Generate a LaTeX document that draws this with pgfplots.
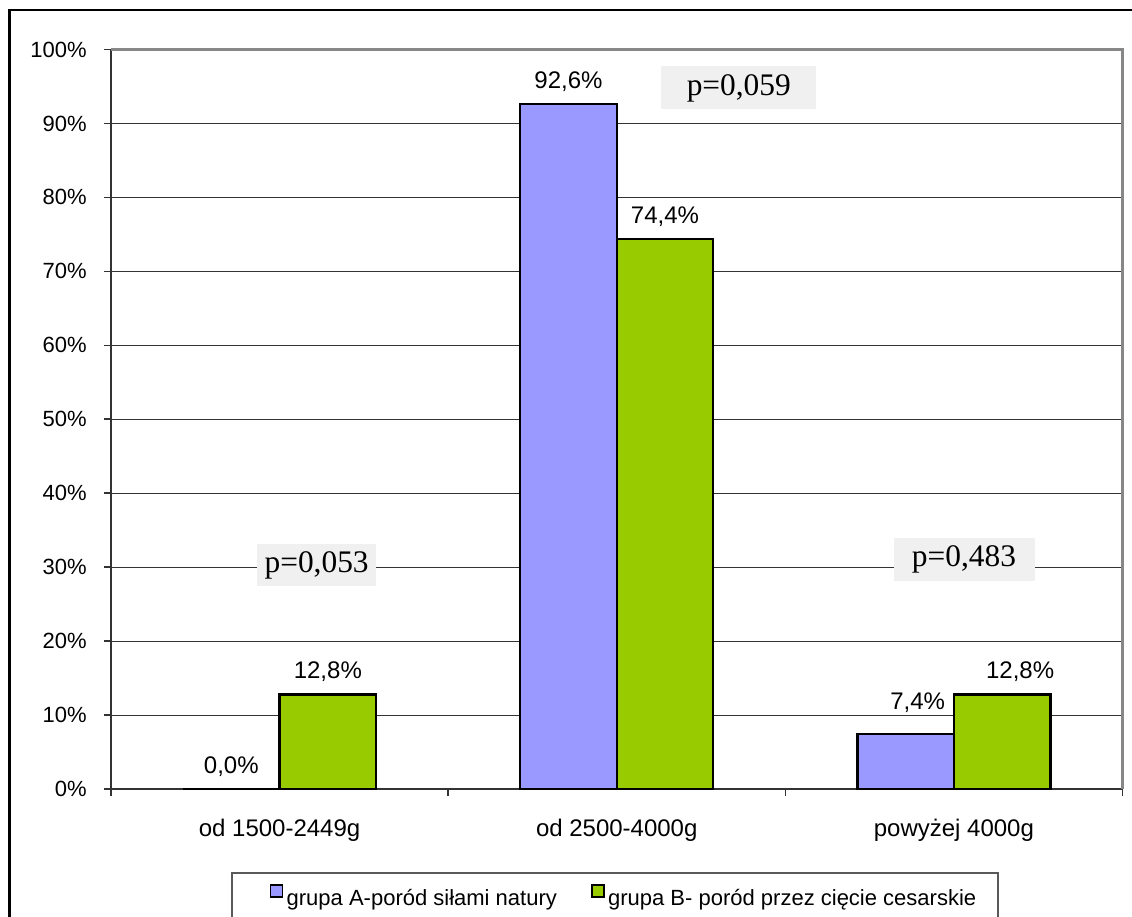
\documentclass[border=0pt]{standalone}
\usepackage{pgfplots}
\pgfplotsset{compat=1.18}
\usepackage{fontspec}
\setmainfont{Liberation Sans}
\newfontfamily\pvalfont{Liberation Serif}
\definecolor{grpA}{HTML}{9999FF}
\definecolor{grpB}{HTML}{99CC00}
\definecolor{pbox}{HTML}{F0F0F0}

\begin{document}
\begin{tikzpicture}[font=\fontsize{12pt}{14.4pt}\selectfont]
% page area and outer frame
\useasboundingbox (0pt,0pt) rectangle (566pt,-458.5pt);
\clip (0pt,0pt) rectangle (566pt,-458.5pt);
\draw[line width=1.25pt] (4.75pt,-5pt) rectangle (620pt,-520pt);
% legend frame
\draw[black!65, line width=0.6pt] (116pt,-436.5pt) rectangle (499pt,-475pt);
\begin{axis}[
  at={(55.5pt,-394.5pt)}, anchor=south west,
  scale only axis, width=505.75pt, height=369.75pt,
  xmin=-0.5, xmax=2.5, ymin=0, ymax=100,
  clip=false,
  axis x line*=bottom, axis y line*=left,
  axis line style={black!80, line width=1pt},
  ytick={0,10,20,30,40,50,60,70,80,90,100},
  yticklabels={0\%,10\%,20\%,30\%,40\%,50\%,60\%,70\%,80\%,90\%,100\%},
  ymajorgrids, grid style={black!80, line width=0.55pt},
  tick align=outside, major tick length=3.5pt,
  tick style={black!80, line width=0.8pt},
  xtick={-0.5,0.5,1.5,2.5}, xticklabels={},
  extra x ticks={0,1,2},
  extra x tick labels={od 1500-2449g,od 2500-4000g,powyżej 4000g},
  extra x tick style={major tick length=0pt, grid=none},
  yticklabel style={anchor=east, inner sep=0pt, xshift=-8.5pt,
    font=\fontsize{11pt}{13pt}\selectfont},
  xticklabel style={anchor=north, inner sep=0pt, yshift=-15pt,
    font=\fontsize{12pt}{14.4pt}\selectfont},
  ybar, bar width=0.2862,
  point meta=explicit symbolic,
  nodes near coords,
  every node near coord/.append style={anchor=base, inner sep=0pt, yshift=7.75pt, black,
    font=\fontsize{12pt}{14.4pt}\selectfont},
  legend style={draw=none, fill=none, at={(axis description cs:0.1565,-0.1447)},
    anchor=west, inner sep=0pt, legend columns=2,
    font=\fontsize{11pt}{13pt}\selectfont,
    /tikz/every even column/.append style={column sep=15.5pt},
    nodes={inner xsep=1.6pt, inner ysep=0pt}},
]
\addplot[fill=grpA, draw=black, line width=1.2pt, bar shift=-0.1431,
  legend image code/.code={\draw[fill=grpA, draw=black, line width=0.9pt] (0pt,1pt) rectangle (6pt,7pt);}]
  coordinates {(0,0) [0,0\%] (1,92.6) [92,6\%] (2,7.4) [\hspace*{12pt}\raisebox{4.5pt}{7,4\%}]};
\addplot[fill=grpB, draw=black, line width=1.2pt, bar shift=0.1431,
  legend image code/.code={\draw[fill=grpB, draw=black, line width=0.9pt] (0pt,1pt) rectangle (6pt,7pt);}]
  coordinates {(0,12.8) [12,8\%] (1,74.4) [74,4\%] (2,12.8) [\hspace*{18pt}12,8\%]};
\legend{grupa A-poród siłami natury, grupa B- poród przez cięcie cesarskie}

% p-values of the group comparison
\node[fill=pbox, minimum width=59.5pt, minimum height=21pt, inner sep=0pt,
  font=\pvalfont\fontsize{15.7pt}{18pt}\selectfont] at (axis cs:0.110,30.3) {p=0,053};
\node[fill=pbox, minimum width=77.5pt, minimum height=21.5pt, inner sep=0pt,
  font=\pvalfont\fontsize{15.7pt}{18pt}\selectfont] at (axis cs:1.362,94.8) {p=0,059};
\node[fill=pbox, minimum width=70.5pt, minimum height=21.5pt, inner sep=0pt,
  font=\pvalfont\fontsize{15.7pt}{18pt}\selectfont] at (axis cs:2.030,31.0) {p=0,483};

% plot area frame, top and right
\draw[black!47, line width=1.2pt] (rel axis cs:0,1) -- (rel axis cs:1,1) -- (rel axis cs:1,0);
\end{axis}
\end{tikzpicture}
\end{document}
